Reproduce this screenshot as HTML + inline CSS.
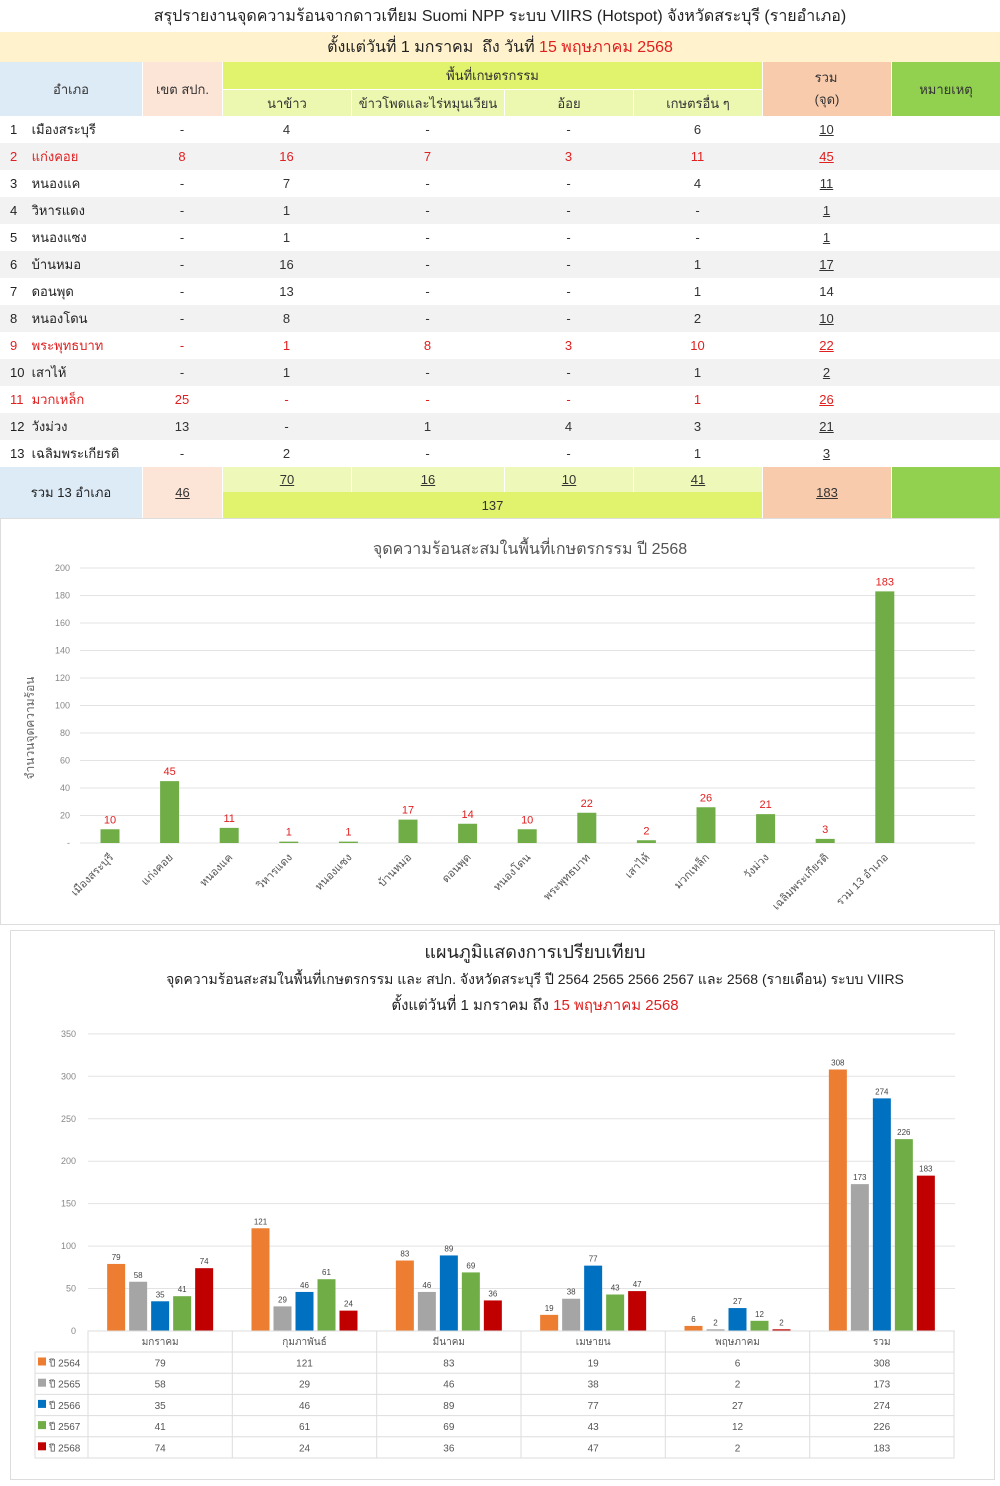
<!DOCTYPE html>
<html><head><meta charset="utf-8">
<style>
body{margin:0;width:1000px;height:1486px;background:#fff;position:relative;font-family:"Liberation Sans","DejaVu Sans",sans-serif;overflow:hidden}
.a{position:absolute;box-sizing:border-box;display:flex;align-items:center;justify-content:center;font-size:13px;color:#333;white-space:nowrap}
.u{text-decoration:underline}
.r{color:#e02020}
svg text{font-family:"Liberation Sans","DejaVu Sans",sans-serif}
</style></head><body>
<div id="t"></div>
<svg id="c1" width="1000" height="925" style="position:absolute;left:0;top:0"></svg>
<svg id="c2" width="1000" height="1486" style="position:absolute;left:0;top:0"></svg>
<script>
var t=document.getElementById('t'),h='';
function box(x,y,w,hh,txt,bg,cls,extra){h+='<div class="a '+(cls||'')+'" style="left:'+x+'px;top:'+y+'px;width:'+w+'px;height:'+hh+'px;background:'+(bg||'transparent')+';'+(extra||'')+'">'+txt+'</div>';}
box(0,0,1000,32,'สรุปรายงานจุดความร้อนจากดาวเทียม Suomi NPP ระบบ VIIRS (Hotspot) จังหวัดสระบุรี (รายอำเภอ)','#fff','','font-size:16px;color:#222');
box(0,32,1000,30,'ตั้งแต่วันที่ 1 มกราคม &nbsp;ถึง วันที่ <span class="r">&nbsp;15 พฤษภาคม 2568</span>','#fff2cc','','font-size:16px;color:#222');
box(0,62,142,54,'อำเภอ','#ddebf7');
box(142,62,80,54,'เขต สปก.','#fce4d6','','border-left:1px solid #fff');
box(222,62,540,27,'พื้นที่เกษตรกรรม','#e1f36d','','border-left:1px solid #fff');
var cx=[222,351,504,633,762];
['นาข้าว','ข้าวโพดและไร่หมุนเวียน','อ้อย','เกษตรอื่น ๆ'].forEach(function(s,i){box(cx[i],89,cx[i+1]-cx[i],27,s,'#ecf8b0','','border-left:1px solid #fff;border-top:1px solid #fff');});
box(762,62,129,54,'รวม<br>(จุด)','#f8cbad','','flex-direction:column;line-height:22px;border-left:1px solid #fff');
box(891,62,109,54,'หมายเหตุ','#92d050','','border-left:1px solid #fff');
var rows=[['เมืองสระบุรี','-','4','-','-','6','10',0],['แก่งคอย','8','16','7','3','11','45',1],['หนองแค','-','7','-','-','4','11',0],['วิหารแดง','-','1','-','-','-','1',0],['หนองแซง','-','1','-','-','-','1',0],['บ้านหมอ','-','16','-','-','1','17',0],['ดอนพุด','-','13','-','-','1','14',0],['หนองโดน','-','8','-','-','2','10',0],['พระพุทธบาท','-','1','8','3','10','22',1],['เสาไห้','-','1','-','-','1','2',0],['มวกเหล็ก','25','-','-','-','1','26',1],['วังม่วง','13','-','1','4','3','21',0],['เฉลิมพระเกียรติ','-','2','-','-','1','3',0]];
rows.forEach(function(r,i){var y=116+i*27.0;var bg=i%2?'#f2f2f2':'#fff';var c=r[7]?' r':'';
box(0,y,1000,27,'',bg);
box(0,y,142,27,'<span style="width:18px;display:inline-block">'+(i+1)+'</span>&nbsp;'+r[0],'',c,'justify-content:flex-start;padding-left:10px;color:'+(r[7]?'#e02020':'#222'));
box(142,y,80,27,r[1],'',c);
for(var k=0;k<4;k++)box(cx[k],y,cx[k+1]-cx[k],27,r[2+k],'',c);
box(762,y,129,27,r[6],'',c+(i==6?'':' u'));});
box(0,467,142,51,'รวม 13 อำเภอ','#ddebf7','','color:#222');
box(142,467,80,51,'46','#fce4d6','u','border-left:1px solid #fff');
['70','16','10','41'].forEach(function(s,i){box(cx[i],467,cx[i+1]-cx[i],25,s,'#eef8b8','u','border-left:1px solid #fff');});
box(222,492,540,26,'137','#e1f36d','','border-left:1px solid #fff');
box(762,467,129,51,'183','#f8cbad','u','border-left:1px solid #fff');
box(891,467,109,51,'','#92d050','','border-left:1px solid #fff');
t.innerHTML=h;

// chart1
var s='<rect x="0.5" y="518.5" width="999" height="406" fill="none" stroke="#ddd"/>';
s+='<text x="530" y="554" font-size="16" fill="#555" text-anchor="middle">จุดความร้อนสะสมในพื้นที่เกษตรกรรม ปี 2568</text>';
for(var v=0;v<=200;v+=20){var y=843-v*1.375;s+='<line x1="80" x2="975" y1="'+y+'" y2="'+y+'" stroke="#e3e3e3"/><text x="70" y="'+(y+3)+'" font-size="9" fill="#888" text-anchor="end">'+(v?v:'-')+'</text>';}
s+='<text transform="translate(34,728) rotate(-90)" font-size="12" fill="#666" text-anchor="middle">จำนวนจุดความร้อน</text>';
var names=['เมืองสระบุรี','แก่งคอย','หนองแค','วิหารแดง','หนองแซง','บ้านหมอ','ดอนพุด','หนองโดน','พระพุทธบาท','เสาไห้','มวกเหล็ก','วังม่วง','เฉลิมพระเกียรติ','รวม 13 อำเภอ'];
var vals=[10,45,11,1,1,17,14,10,22,2,26,21,3,183];
vals.forEach(function(v,i){var x=110+i*59.6,y=843-v*1.375;s+='<rect x="'+(x-9.5)+'" y="'+y+'" width="19" height="'+(v*1.375)+'" fill="#70ad47"/><text x="'+x+'" y="'+(y-6)+'" font-size="11" fill="#e02020" text-anchor="middle">'+v+'</text><text transform="translate('+(x+4)+',858) rotate(-45)" font-size="11" fill="#555" text-anchor="end">'+names[i]+'</text>';});
document.getElementById('c1').innerHTML=s;

// chart2
s='<rect x="10.5" y="930.5" width="984" height="549" fill="none" stroke="#ddd"/>';
s+='<text x="535" y="958" font-size="18" fill="#222" text-anchor="middle">แผนภูมิแสดงการเปรียบเทียบ</text>';
s+='<text x="535" y="984" font-size="14" fill="#222" text-anchor="middle">จุดความร้อนสะสมในพื้นที่เกษตรกรรม  และ สปก. จังหวัดสระบุรี ปี  2564 2565 2566 2567 และ 2568 (รายเดือน)  ระบบ VIIRS</text>';
s+='<text x="535" y="1010" font-size="15" fill="#222" text-anchor="middle">ตั้งแต่วันที่ 1 มกราคม ถึง <tspan fill="#e02020">15 พฤษภาคม 2568</tspan></text>';
var k=0.849;
for(var v=0;v<=350;v+=50){var y=1331-v*k;s+='<line x1="88" x2="955" y1="'+y+'" y2="'+y+'" stroke="#e3e3e3"/><text x="76" y="'+(y+3)+'" font-size="9" fill="#888" text-anchor="end">'+v+'</text>';}
var cols=['#ed7d31','#a5a5a5','#0070c0','#70ad47','#c00000'];
var data=[[79,121,83,19,6,308],[58,29,46,38,2,173],[35,46,89,77,27,274],[41,61,69,43,12,226],[74,24,36,47,2,183]];
var mon=['มกราคม','กุมภาพันธ์','มีนาคม','เมษายน','พฤษภาคม','รวม'];
var gx=[88,232.3,376.7,521,665.3,809.7,954];
for(var g=0;g<6;g++){var st=(gx[g]+gx[g+1])/2-53;for(var j=0;j<5;j++){var v=data[j][g],x=st+j*22,y=1331-v*k;s+='<rect x="'+x+'" y="'+y+'" width="18" height="'+(v*k)+'" fill="'+cols[j]+'"/><text x="'+(x+9)+'" y="'+(y-4)+'" font-size="8" fill="#444" text-anchor="middle">'+v+'</text>';}}
// table
s+='<rect x="88" y="1331" width="866" height="127" fill="none" stroke="#ddd"/><rect x="35" y="1352" width="53" height="106" fill="none" stroke="#ddd"/>';
for(var g=0;g<7;g++)s+='<line x1="'+gx[g]+'" x2="'+gx[g]+'" y1="1331" y2="1458" stroke="#ddd"/>';
for(var r=0;r<6;r++){var y=1352+r*21.2;s+='<line x1="35" x2="954" y1="'+y+'" y2="'+y+'" stroke="#ddd"/>';}
for(var g=0;g<6;g++)s+='<text x="'+((gx[g]+gx[g+1])/2)+'" y="1345" font-size="10" fill="#555" text-anchor="middle">'+mon[g]+'</text>';
for(var j=0;j<5;j++){var y=1352+j*21.2+14.5;s+='<rect x="38" y="'+(y-9)+'" width="8" height="8" fill="'+cols[j]+'"/><text x="49" y="'+y+'" font-size="10" fill="#555">ปี '+(2564+j)+'</text>';
for(var g=0;g<6;g++)s+='<text x="'+((gx[g]+gx[g+1])/2)+'" y="'+y+'" font-size="10" fill="#555" text-anchor="middle">'+data[j][g]+'</text>';}
document.getElementById('c2').innerHTML=s;
</script>
</body></html>
